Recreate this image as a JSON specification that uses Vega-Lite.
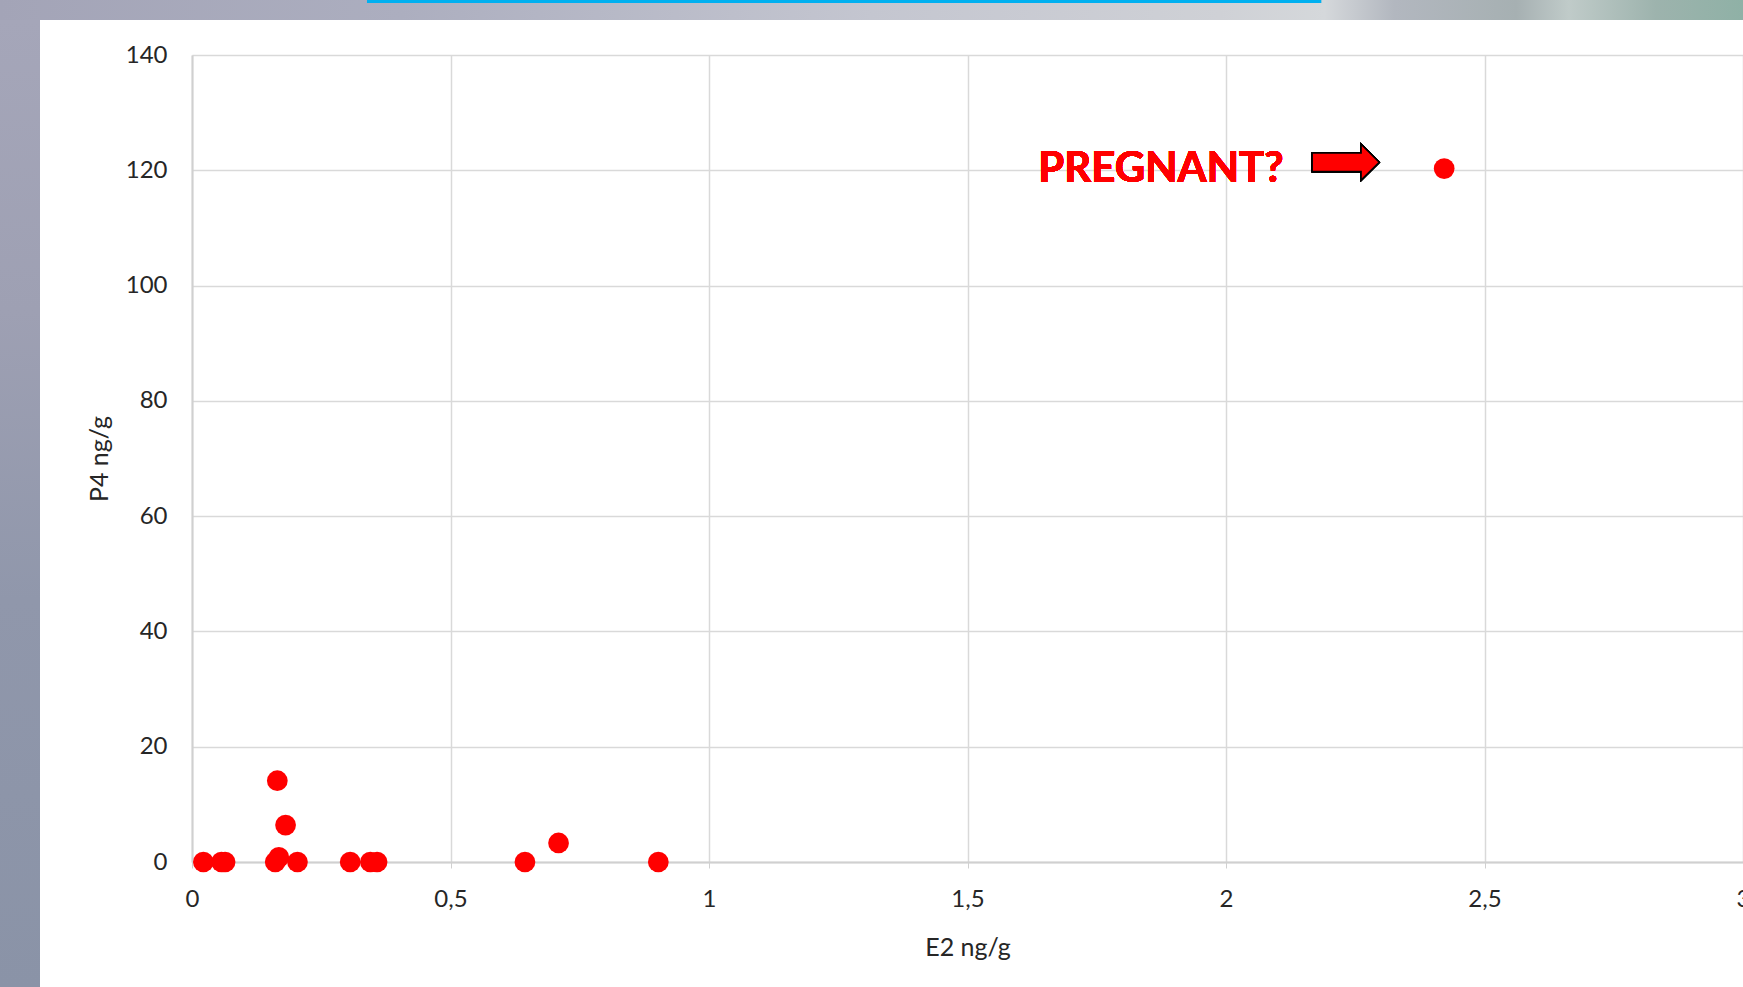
{
  "$schema": "https://vega.github.io/schema/vega-lite/v6.json",
  "width": 1551,
  "height": 807,
  "autosize": {"type": "none"},
  "padding": {"left": 192, "top": 55, "right": 0, "bottom": 125},
  "background": "#ffffff",
  "config": {
    "view": {"stroke": null},
    "font": "Lato",
    "axis": {
      "labelFont": "Lato",
      "labelFontSize": 24,
      "labelColor": "#262626",
      "titleFont": "Lato",
      "titleFontSize": 25,
      "titleFontWeight": "normal",
      "titleColor": "#262626",
      "gridColor": "#d9d9d9",
      "gridWidth": 1.5,
      "domainColor": "#d0d0d0",
      "domainWidth": 2,
      "tickColor": "#d0d0d0"
    }
  },
  "data": {
    "values": [
      {"E2": 0.022, "P4": 0},
      {"E2": 0.057, "P4": 0},
      {"E2": 0.064, "P4": 0},
      {"E2": 0.161, "P4": 0},
      {"E2": 0.168, "P4": 0.8},
      {"E2": 0.165, "P4": 14.1},
      {"E2": 0.181, "P4": 6.4},
      {"E2": 0.204, "P4": 0},
      {"E2": 0.306, "P4": 0},
      {"E2": 0.345, "P4": 0},
      {"E2": 0.358, "P4": 0},
      {"E2": 0.644, "P4": 0},
      {"E2": 0.709, "P4": 3.3},
      {"E2": 0.902, "P4": 0},
      {"E2": 2.422, "P4": 120.3}
    ]
  },
  "encoding": {
    "x": {
      "field": "E2", "type": "quantitative",
      "scale": {"domain": [0, 3], "nice": false, "zero": false},
      "axis": {
        "title": "E2 ng/g",
        "values": [0, 0.5, 1, 1.5, 2, 2.5, 3],
        "labelExpr": "replace(toString(datum.value), '.', ',')",
        "ticks": true, "tickSize": 6,
        "labelPadding": 19,
        "titlePadding": 24,
        "labelFlush": false,
        "labelOverlap": false
      }
    },
    "y": {
      "field": "P4", "type": "quantitative",
      "scale": {"domain": [0, 140], "nice": false, "zero": false},
      "axis": {
        "title": "P4 ng/g",
        "values": [0, 20, 40, 60, 80, 100, 120, 140],
        "ticks": false,
        "labelPadding": 25,
        "titlePadding": 13,
        "labelFlush": false,
        "labelOverlap": false
      }
    }
  },
  "layer": [
    {
      "mark": {
        "type": "rect", "clip": false,
        "color": {
          "gradient": "linear", "x1": 0, "y1": 0, "x2": 1, "y2": 0,
          "stops": [
            {"offset": 0, "color": "#a3a4b7"},
            {"offset": 0.23, "color": "#acaebf"},
            {"offset": 0.5, "color": "#c4c6d0"},
            {"offset": 0.7, "color": "#cfd1d6"},
            {"offset": 0.76, "color": "#d5d8db"},
            {"offset": 0.8, "color": "#b2b7bf"},
            {"offset": 0.87, "color": "#a6b0b2"},
            {"offset": 0.9, "color": "#c0cbc9"},
            {"offset": 0.95, "color": "#9db3ad"},
            {"offset": 1, "color": "#8fb1a6"}
          ]
        }
      },
      "encoding": {
        "x": {"datum": -0.3714},
        "x2": {"datum": 3.0},
        "y": {"datum": 149.6},
        "y2": {"datum": 146.07}
      }
    },
    {
      "mark": {
        "type": "rect", "clip": false,
        "color": {
          "gradient": "linear", "x1": 0, "y1": 0, "x2": 0, "y2": 1,
          "stops": [
            {"offset": 0, "color": "#a5a6b9"},
            {"offset": 0.3, "color": "#9ea0b3"},
            {"offset": 0.6, "color": "#9097ab"},
            {"offset": 1, "color": "#8a93a7"}
          ]
        }
      },
      "encoding": {
        "x": {"datum": -0.3714},
        "x2": {"datum": -0.294},
        "y": {"datum": 146.07},
        "y2": {"datum": -21.7}
      }
    },
    {
      "mark": {"type": "rect", "clip": false, "color": "#00b0f0"},
      "encoding": {
        "x": {"datum": 0.3385},
        "x2": {"datum": 2.1838},
        "y": {"datum": 149.6},
        "y2": {"datum": 149.02}
      }
    },
    {
      "mark": {"type": "point", "filled": true, "color": "#ff0000", "opacity": 1, "size": 430}
    },
    {
      "mark": {
        "type": "text", "text": "PREGNANT?", "color": "#ff0000",
        "font": "Lato", "fontWeight": "bold", "fontSize": 42,
        "align": "center", "baseline": "alphabetic"
      },
      "encoding": {
        "x": {"datum": 1.874},
        "y": {"datum": 118.0}
      }
    },
    {
      "mark": {
        "type": "point", "filled": true, "color": "#ff0000", "opacity": 1,
        "stroke": "#000000", "strokeWidth": 1.5,
        "shape": "M -1 -0.275 L 0.46 -0.275 L 0.46 -0.535 L 1 0 L 0.46 0.535 L 0.46 0.275 L -1 0.275 Z",
        "size": 4489
      },
      "encoding": {
        "x": {"datum": 2.2315},
        "y": {"datum": 121.4}
      }
    }
  ]
}
